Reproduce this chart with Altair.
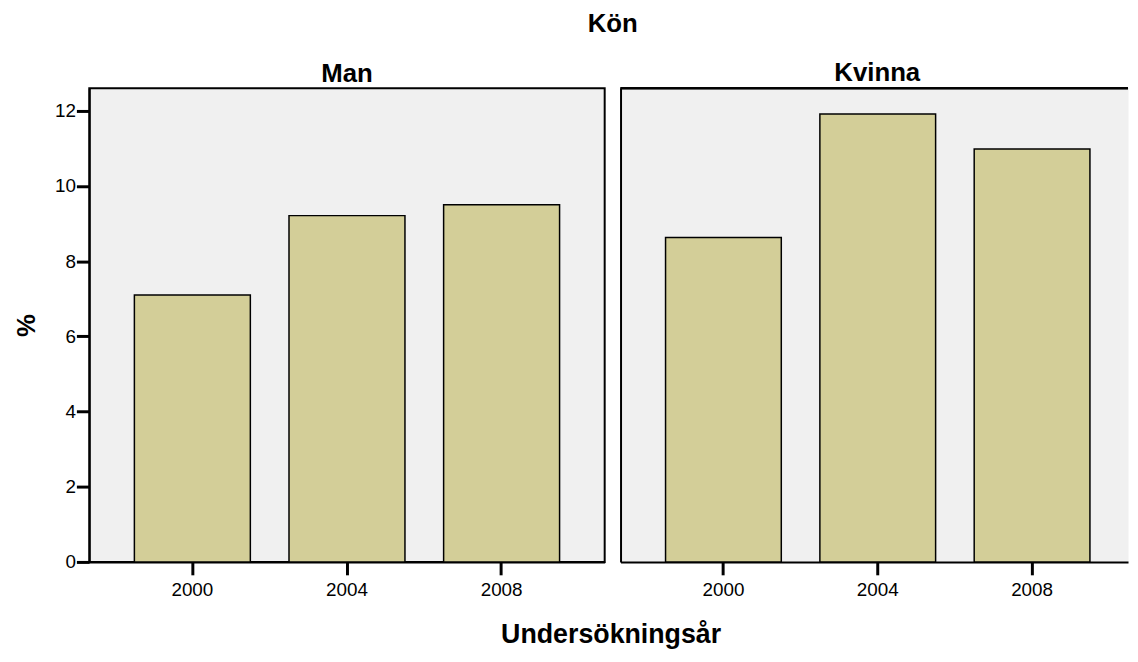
import altair as alt
import pandas as pd

sexes = ["Man", "Man", "Man", "Kvinna", "Kvinna", "Kvinna"]
years = ["2000", "2004", "2008", "2000", "2004", "2008"]
percent = [7.10, 9.21, 9.50, 8.63, 11.91, 10.98]
year_order = ["2000", "2004", "2008"]
y_ticks = [0, 2, 4, 6, 8, 10, 12]

df = pd.DataFrame({"Kön": sexes, "År": years, "Procent": percent})

FONT = "Liberation Sans"
BAR = "#d3ce98"
BG = "#f0f0f0"

y_scale = alt.Scale(domain=[0, 12.6], nice=False)

x_axis_common = dict(labelAngle=0, labelFontSize=19, tickSize=13, tickWidth=3,
                     labelPadding=6, domainWidth=2, domainColor="black",
                     tickColor="black", labelColor="black", grid=False)


def bars(data, x_scale, x_axis, y_axis):
    return alt.Chart(data).mark_bar(
        fill=BAR, stroke="black", strokeWidth=1.5
    ).encode(
        x=alt.X("År:N", sort=year_order, scale=x_scale, axis=x_axis),
        y=alt.Y("Procent:Q", scale=y_scale, axis=y_axis),
    )


left_data = df[df["Kön"] == "Man"]
right_data = df[df["Kön"] == "Kvinna"]

left = bars(
    left_data,
    alt.Scale(paddingInner=0.25, paddingOuter=0.2917),
    alt.Axis(title="Undersökningsår", titleX=526, titleFontSize=27,
             titleFontWeight="bold", titleColor="black", titlePadding=22,
             **x_axis_common),
    alt.Axis(values=y_ticks, grid=False, labelFontSize=19, tickSize=13, tickWidth=3,
             labelPadding=1, domainWidth=2, domainColor="black", tickColor="black",
             labelColor="black", title="%", titleFontSize=26, titleFontWeight="bold",
             titlePadding=15, titleColor="black"),
).properties(
    width=520, height=478,
    title=alt.Title("Man", fontSize=26, fontWeight="bold", color="black",
                    anchor="middle", frame="group", offset=1),
    view=alt.ViewBackground(fill=BG, stroke="black", strokeWidth=2),
)

right_bars = bars(
    right_data,
    alt.Scale(paddingInner=0.25, paddingOuter=0.2692, align=0.5417),
    alt.Axis(title=None, **x_axis_common),
    alt.Axis(values=y_ticks, grid=False, labels=False, ticks=False, title=None,
             domainWidth=2, domainColor="black"),
)
top_edge = alt.Chart(right_data).mark_rule(color="black", strokeWidth=2).encode(
    y=alt.value(0)
)
right = alt.layer(right_bars, top_edge).properties(
    width=512, height=478,
    title=alt.Title("Kvinna", fontSize=26, fontWeight="bold", color="black",
                    anchor="middle", frame="group", offset=1, dx=3),
    view=alt.ViewBackground(fill=BG, stroke="transparent"),
)

chart = alt.hconcat(left, right, spacing=16, bounds="flush").properties(
    title=alt.Title("Kön", fontSize=26, fontWeight="bold", color="black",
                    anchor="middle", frame="bounds", offset=23, dx=42),
    padding={"left": 4, "top": 0, "right": 0, "bottom": 0},
).configure(font=FONT)

chart.save("out.html", embed_options={"renderer": "svg", "actions": False})
